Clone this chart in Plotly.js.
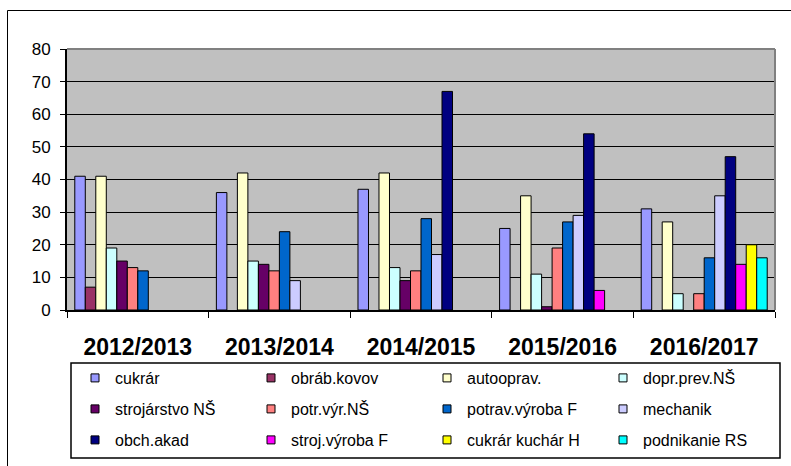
<!DOCTYPE html>
<html>
<head>
<meta charset="utf-8">
<script src="https://cdn.plot.ly/plotly-3.0.1.min.js"></script>
<style>
html,body{margin:0;padding:0;background:#fff;overflow:hidden;}
#chart{width:791px;height:466px;}
</style>
</head>
<body>
<div id="chart"></div>
<script>
var years = ["2012/2013", "2013/2014", "2014/2015", "2015/2016", "2016/2017"];

var cukrar        = [41, 36, 37, 25, 31];
var obrabKovov    = [7, null, null, null, null];
var autooprav     = [41, 42, 42, 35, 27];
var doprPrev      = [19, 15, 13, 11, 5];
var strojarstvo   = [15, 14, 9, 1, null];
var potrVyr       = [13, 12, 12, 19, 5];
var potravVyroba  = [12, 24, 28, 27, 16];
var mechanik      = [null, 9, 17, 29, 35];
var obchAkad      = [null, null, 67, 54, 47];
var strojVyroba   = [null, null, null, 6, 14];
var cukrarKuchar  = [null, null, null, null, 20];
var podnikanie    = [null, null, null, null, 16];

var seriesNames = ["cukrár", "obráb.kovov", "autooprav.", "dopr.prev.NŠ",
  "strojárstvo NŠ", "potr.výr.NŠ", "potrav.výroba F", "mechanik",
  "obch.akad", "stroj.výroba F", "cukrár kuchár H", "podnikanie RS"];
var seriesValues = [cukrar, obrabKovov, autooprav, doprPrev, strojarstvo, potrVyr,
  potravVyroba, mechanik, obchAkad, strojVyroba, cukrarKuchar, podnikanie];
var seriesColors = ["#9999FF", "#993366", "#FFFFCC", "#CCFFFF", "#660066", "#FF8080",
  "#0066CC", "#CCCCFF", "#000080", "#FF00FF", "#FFFF00", "#00FFFF"];

var FONT = "Liberation Sans, Arial, sans-serif";
var traces = [];
var legendIds = ["legend", "legend2", "legend3"];

seriesNames.forEach(function(name, i) {
  traces.push({
    type: "bar",
    x: years,
    y: seriesValues[i],
    name: name,
    showlegend: false,
    marker: {color: seriesColors[i], line: {color: "#000", width: 1}},
    hoverinfo: "x+y+name"
  });
});
// legend entries (small square symbols like the original)
seriesNames.forEach(function(name, i) {
  traces.push({
    type: "scatter",
    mode: "markers",
    x: [null], y: [null],
    name: name,
    legend: legendIds[Math.floor(i / 4)],
    showlegend: true,
    marker: {symbol: "square", size: 8, color: seriesColors[i], line: {color: "#000", width: 1}}
  });
});

var H = 261; // plot height px (49..310)
function py(px) { return (310 - px) / H; }
function pxX(px) { return (px - 67) / 708; }

var legendBase = {
  orientation: "h",
  xanchor: "left",
  yanchor: "middle",
  x: pxX(75),
  bgcolor: "rgba(0,0,0,0)",
  borderwidth: 0,
  entrywidthmode: "pixels",
  entrywidth: 131,
  font: {family: FONT, size: 16, color: "#000"},
  itemclick: false
};
function mkLegend(y) {
  var o = {};
  for (var k in legendBase) o[k] = legendBase[k];
  o.y = y;
  return o;
}

var layout = {
  width: 791,
  height: 466,
  margin: {l: 67, r: 16, t: 49, b: 156, autoexpand: false},
  paper_bgcolor: "#fff",
  plot_bgcolor: "#C0C0C0",
  barmode: "group",
  bargap: 0.11,
  bargroupgap: 0,
  font: {family: FONT, color: "#000"},
  xaxis: {
    type: "category",
    automargin: false,
    showgrid: false,
    showline: true,
    linecolor: "#000",
    linewidth: 2,
    ticks: "outside",
    tickson: "boundaries",
    ticklen: 6,
    tickcolor: "#000",
    tickwidth: 1,
    ticklabelstandoff: 15,
    tickfont: {family: FONT, size: 23, color: "#000", weight: "bold"},
    fixedrange: true
  },
  yaxis: {
    range: [0, 80],
    automargin: false,
    dtick: 10,
    showgrid: true,
    gridcolor: "#000",
    gridwidth: 1,
    zeroline: false,
    showline: true,
    linecolor: "#000",
    linewidth: 2,
    ticks: "outside",
    ticklen: 5,
    tickcolor: "#000",
    tickwidth: 1,
    ticklabelstandoff: 6,
    tickfont: {family: FONT, size: 17, color: "#000"},
    fixedrange: true
  },
  legend: mkLegend(py(378)),
  legend2: mkLegend(py(409)),
  legend3: mkLegend(py(440)),
  shapes: [
    {type: "line", xref: "paper", yref: "paper", x0: 0, x1: 1, y0: 1, y1: 1,
     line: {color: "#808080", width: 2}, layer: "above"},
    {type: "line", xref: "paper", yref: "paper", x0: 1, x1: 1, y0: 0, y1: 1,
     line: {color: "#808080", width: 2}, layer: "above"},
    {type: "rect", xref: "paper", yref: "paper",
     x0: pxX(71), x1: pxX(780), y0: py(458), y1: py(363),
     line: {color: "#000", width: 1.5}, fillcolor: "rgba(0,0,0,0)", layer: "above"},
    {type: "line", xref: "paper", yref: "paper", x0: pxX(7.5), x1: pxX(800), y0: py(10.5), y1: py(10.5),
     line: {color: "#000", width: 1}, layer: "above"},
    {type: "line", xref: "paper", yref: "paper", x0: pxX(7.5), x1: pxX(7.5), y0: py(480), y1: py(10.5),
     line: {color: "#000", width: 1}, layer: "above"}
  ],
  showlegend: true
};

Plotly.newPlot("chart", traces, layout, {displayModeBar: false, staticPlot: true});
</script>
</body>
</html>
